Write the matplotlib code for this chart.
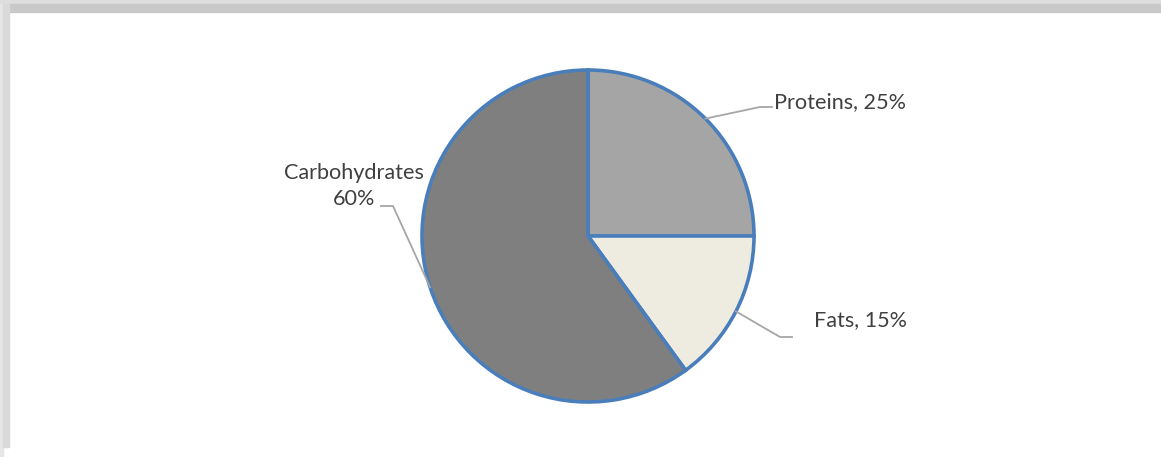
import numpy as np
import matplotlib.pyplot as plt
from matplotlib.patches import Rectangle

labels = ["Proteins", "Fats", "Carbohydrates"]
shares = [25, 15, 60]
colors = ["#a5a5a5", "#eeece1", "#7f7f7f"]

W, H = 1161, 457
CX, CY, R = 588, H - 236, 166
TEXT = "#404040"
LEADER = "#a6a6a6"

plt.rcParams["font.family"] = ["Lato", "DejaVu Sans"]

fig = plt.figure(figsize=(W / 100, H / 100), dpi=100)
ax = fig.add_axes([0, 0, 1, 1])

# shadow-ish frame on top and left
fig.patches.append(Rectangle((0, 1 - 4 / H), 1, 4 / H, transform=fig.transFigure,
                             color="#dedede", zorder=0))
fig.patches.append(Rectangle((8 / W, 1 - 12 / H), 1 - 8 / W, 8 / H, transform=fig.transFigure,
                             color="#c8c8c8", zorder=0))
fig.patches.append(Rectangle((0, 0), 3 / W, 1 - 4 / H, transform=fig.transFigure,
                             color="#e6e6e6", zorder=0))
fig.patches.append(Rectangle((3 / W, 10 / H), 6 / W, 1 - 14 / H, transform=fig.transFigure,
                             color="#d9d9d9", zorder=0))

wedges, _ = ax.pie(shares, colors=colors, startangle=90, counterclock=False,
                   center=(CX, CY), radius=R,
                   wedgeprops=dict(edgecolor="#4a7ebb", linewidth=2.6))

ax.set_xlim(0, W)
ax.set_ylim(0, H)
ax.set_aspect("equal")
ax.axis("off")

# label text, elbow point, text anchor (pixel coords from top)
label_layout = [
    ("Proteins, 25%", (760, 107), (774, 102), "left"),
    ("Fats, 15%", (780, 337), (814, 320), "left"),
    ("Carbohydrates\n60%", (393, 206), (354, 186), "center"),
]

for w, (txt, elbow, anchor, ha) in zip(wedges, label_layout):
    mid = np.deg2rad((w.theta1 + w.theta2) / 2)
    sx, sy = CX + R * np.cos(mid), CY + R * np.sin(mid)
    ex, ey = elbow[0], H - elbow[1]
    tail = ex + 12 if ha == "left" else ex - 12
    ax.plot([sx, ex, tail], [sy, ey, ey], color=LEADER, lw=1.3, zorder=3)
    ax.text(anchor[0], H - anchor[1], txt, ha=ha, va="center", fontsize=15.6,
            color=TEXT, multialignment="center", linespacing=1.4)

fig.savefig("out.png", dpi=100)
